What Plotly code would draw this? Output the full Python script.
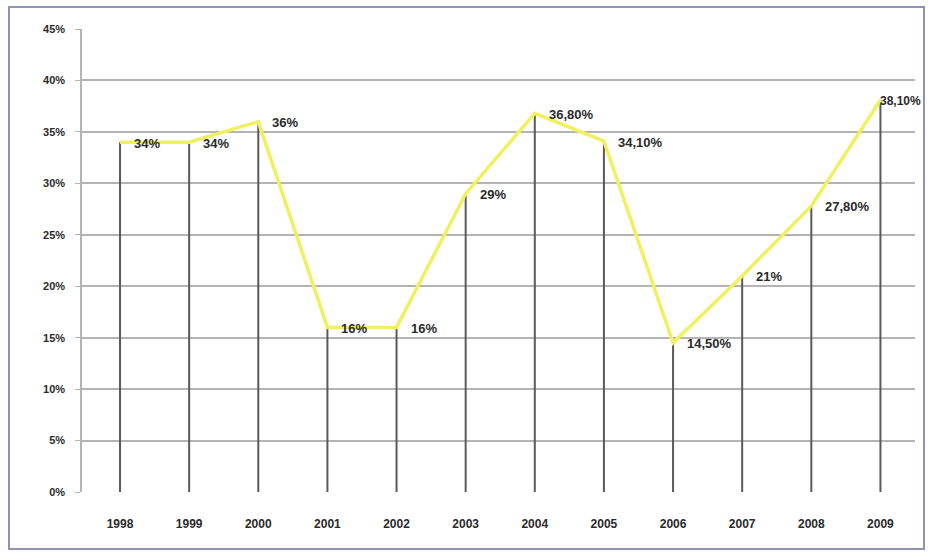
import plotly.graph_objects as go

years = ["1998", "1999", "2000", "2001", "2002", "2003",
         "2004", "2005", "2006", "2007", "2008", "2009"]
values = [34, 34, 36, 16, 16, 29, 36.8, 34.1, 14.5, 21, 27.8, 38.1]
labels = ["34%", "34%", "36%", "16%", "16%", "29%",
          "36,80%", "34,10%", "14,50%", "21%", "27,80%", "38,10%"]
y_ticks = [0, 5, 10, 15, 20, 25, 30, 35, 40, 45]
y_tick_text = [f"{t}%" for t in y_ticks]

W, H = 928, 555
ML, MR, MT, MB = 82, 13, 29, 63
PW, PH = W - ML - MR, H - MT - MB

# vertical drop lines from each point down to zero
drop_x, drop_y = [], []
for yr, v in zip(years, values):
    drop_x += [yr, yr, None]
    drop_y += [0, v, None]

fig = go.Figure()
fig.add_trace(go.Scatter(
    x=drop_x, y=drop_y, mode="lines",
    line=dict(color="#5a5a5a", width=2),
    hoverinfo="skip", showlegend=False,
))
fig.add_trace(go.Scatter(
    x=years, y=values, mode="lines",
    line=dict(color="#f0f060", width=3.5),
    showlegend=False,
))

# value labels right of each point (category index on x);
# the last one sits on its point so it stays inside the frame
n = len(values)
for i, (v, lab) in enumerate(zip(values, labels)):
    fig.add_annotation(
        x=i, y=v, text=f"<b>{lab}</b>", showarrow=False,
        xanchor="left", yanchor="middle",
        xshift=12 if i < n - 1 else -2, yshift=-1,
        font=dict(family="Liberation Sans", size=13 if i < n - 1 else 12,
                  color="#2a2a2a"),
    )

# outer frame around the whole chart
def px_x(p):
    return (p - ML) / PW

def px_y(p):
    return 1 - (p - MT) / PH

fig.add_shape(type="rect", xref="paper", yref="paper",
              x0=px_x(9), x1=px_x(924), y0=px_y(549), y1=px_y(7),
              line=dict(color="#8c93b5", width=2), layer="below")

fig.update_layout(
    width=W, height=H,
    margin=dict(l=ML, r=MR, t=MT, b=MB),
    paper_bgcolor="white", plot_bgcolor="white",
    font=dict(family="Liberation Sans", color="#333333"),
    xaxis=dict(
        type="category", range=[-0.55, 11.5],
        showgrid=False, zeroline=False, showline=False,
        ticks="", tickfont=dict(size=12, family="Liberation Sans",
                                weight="bold", color="#2a2a2a"),
        ticklabelstandoff=23,
    ),
    yaxis=dict(
        range=[0, 45], tickvals=y_ticks, ticktext=y_tick_text,
        showgrid=True, gridcolor="#b4b4b4", gridwidth=1.5,
        zeroline=False, showline=True, linecolor="#b4b4b4", linewidth=1.5,
        ticks="outside", ticklen=5, tickcolor="#b4b4b4",
        tickfont=dict(size=11, family="Liberation Sans",
                      weight="bold", color="#2a2a2a"),
        ticklabelstandoff=8,
    ),
)

fig.write_html("out.html")
